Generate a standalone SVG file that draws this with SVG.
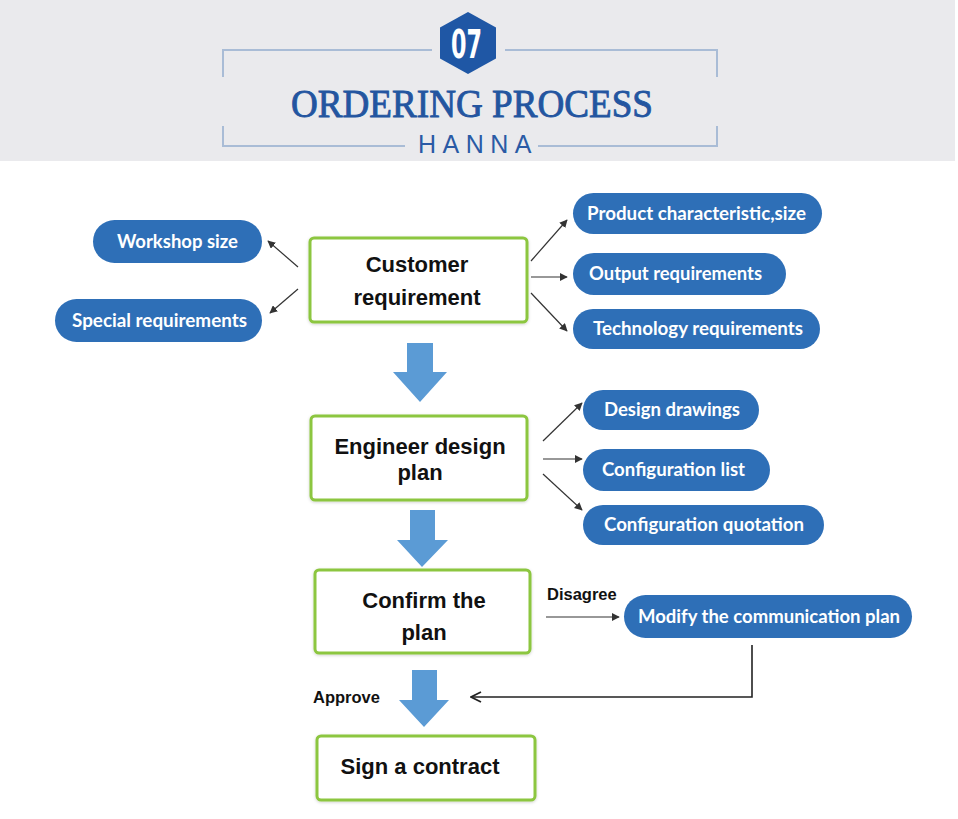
<svg xmlns="http://www.w3.org/2000/svg" width="958" height="819" viewBox="0 0 958 819">
<style>
.frame{stroke:#a9bcd6;stroke-width:2;fill:none}
.box{fill:#fff;stroke:#8cc63f;stroke-width:3;filter:url(#sh)}
.boxt{font-family:"Liberation Sans",Arial,sans-serif;font-weight:bold;font-size:22px;fill:#111;text-anchor:middle}
.pill{fill:#2e6fb7}
.pillt{font-family:Lato,"Open Sans",sans-serif;font-weight:bold;font-size:18px;fill:#fff}
.thin{stroke:#333;stroke-width:1.2;fill:none;marker-end:url(#ah)}
.blk{fill:#5b9bd5}
.lbl{font-family:"Liberation Sans",Arial,sans-serif;font-weight:bold;font-size:16.5px;fill:#111}
</style>
<defs>
<marker id="ah" viewBox="0 0 10 10" refX="9" refY="5" markerWidth="8" markerHeight="8" markerUnits="userSpaceOnUse" orient="auto">
<path d="M0,0 L10,5 L0,10 z" fill="#333"/>
</marker>
<marker id="chev" viewBox="0 0 12 12" refX="11" refY="6" markerWidth="12" markerHeight="12" markerUnits="userSpaceOnUse" orient="auto">
<path d="M1,1 L11,6 L1,11" fill="none" stroke="#222" stroke-width="1.8"/>
</marker>
<filter id="sh" x="-5%" y="-10%" width="110%" height="120%">
<feDropShadow dx="0" dy="1" stdDeviation="1.5" flood-color="#000" flood-opacity="0.18"/>
</filter>
</defs>

<g id="header">
<rect x="0" y="0" width="955" height="161" fill="#eaeaed"/>
<path class="frame" d="M223,77 V50 H432 M505,50 H717 V77"/>
<path class="frame" d="M223,126 V146 H405 M538,146 H717 V126"/>
<polygon points="468,12 496,27.5 496,58.5 468,74 440,58.5 440,27.5" fill="#1f57a5"/>
<text x="466.5" y="58" font-family="'DejaVu Sans Condensed','Liberation Sans Narrow',sans-serif" font-weight="bold" font-size="39" fill="#fff" text-anchor="middle" textLength="31" lengthAdjust="spacingAndGlyphs">07</text>
<text x="291" y="117" font-family="'Liberation Serif','Times New Roman',serif" font-size="40" fill="#2355a0" stroke="#2355a0" stroke-width="0.9" textLength="362" lengthAdjust="spacingAndGlyphs">ORDERING PROCESS</text>
<text x="418" y="153" font-family="'Liberation Sans',Arial,sans-serif" font-size="25" fill="#2a5aa5" letter-spacing="6.5">HANNA</text>
</g>

<g id="connectors">
<line class="thin" x1="298" y1="267" x2="268" y2="241"/>
<line class="thin" x1="298" y1="289" x2="270" y2="313"/>
<line class="thin" x1="531" y1="261" x2="567" y2="220"/>
<line class="thin" x1="531" y1="277" x2="567" y2="277"/>
<line class="thin" x1="531" y1="293" x2="567" y2="331"/>
<line class="thin" x1="543" y1="441" x2="582" y2="403"/>
<line class="thin" x1="543" y1="459" x2="582" y2="459"/>
<line class="thin" x1="543" y1="474" x2="582" y2="510"/>
<line class="thin" x1="546" y1="617" x2="619" y2="617"/>
<polyline points="752,645 752,697 471,697" fill="none" stroke="#222" stroke-width="1.6" marker-end="url(#chev)"/>
<polygon class="blk" points="407,343 433,343 433,372 447,372 420,402 393,372 407,372"/>
<polygon class="blk" points="410,510 435,510 435,540 448,540 422,567 397,540 410,540"/>
<polygon class="blk" points="412,670 437,670 437,700 449,700 424,727 399,700 412,700"/>
<text class="lbl" x="547" y="600">Disagree</text>
<text class="lbl" x="313" y="703">Approve</text>
</g>

<g id="customer-requirement">
<rect class="box" x="310" y="238" width="217" height="84" rx="4"/>
<text class="boxt" x="417" y="272">Customer</text>
<text class="boxt" x="417" y="305">requirement</text>
</g>
<g id="engineer-design-plan">
<rect class="box" x="311" y="416" width="216" height="84" rx="4"/>
<text class="boxt" x="420" y="454">Engineer design</text>
<text class="boxt" x="420" y="480">plan</text>
</g>
<g id="confirm-the-plan">
<rect class="box" x="315" y="570" width="215" height="83" rx="4"/>
<text class="boxt" x="424" y="608">Confirm the</text>
<text class="boxt" x="424" y="640">plan</text>
</g>
<g id="sign-a-contract">
<rect class="box" x="317" y="736" width="218" height="64" rx="4"/>
<text class="boxt" x="420" y="774">Sign a contract</text>
</g>

<g id="workshop-size">
<rect class="pill" x="93" y="220" width="169" height="43" rx="21.5"/>
<text class="pillt" x="117" y="248" textLength="121" lengthAdjust="spacingAndGlyphs">Workshop size</text>
</g>
<g id="special-requirements">
<rect class="pill" x="55" y="299" width="207" height="43" rx="21.5"/>
<text class="pillt" x="72" y="327" textLength="175" lengthAdjust="spacingAndGlyphs">Special requirements</text>
</g>
<g id="product-characteristic">
<rect class="pill" x="573" y="193" width="249" height="41" rx="20.5"/>
<text class="pillt" x="587" y="220" textLength="219" lengthAdjust="spacingAndGlyphs">Product characteristic,size</text>
</g>
<g id="output-requirements">
<rect class="pill" x="573" y="253" width="213" height="42" rx="21"/>
<text class="pillt" x="589" y="280" textLength="173" lengthAdjust="spacingAndGlyphs">Output requirements</text>
</g>
<g id="technology-requirements">
<rect class="pill" x="573" y="309" width="247" height="40" rx="20"/>
<text class="pillt" x="593" y="335" textLength="210" lengthAdjust="spacingAndGlyphs">Technology requirements</text>
</g>
<g id="design-drawings">
<rect class="pill" x="583" y="390" width="176" height="40" rx="20"/>
<text class="pillt" x="604" y="416" textLength="136" lengthAdjust="spacingAndGlyphs">Design drawings</text>
</g>
<g id="configuration-list">
<rect class="pill" x="583" y="449" width="187" height="42" rx="21"/>
<text class="pillt" x="602" y="476" textLength="143" lengthAdjust="spacingAndGlyphs">Configuration list</text>
</g>
<g id="configuration-quotation">
<rect class="pill" x="583" y="505" width="241" height="40" rx="20"/>
<text class="pillt" x="604" y="531" textLength="200" lengthAdjust="spacingAndGlyphs">Configuration quotation</text>
</g>
<g id="modify-plan">
<rect class="pill" x="624" y="595" width="288" height="43" rx="21.5"/>
<text class="pillt" x="638" y="623" textLength="262" lengthAdjust="spacingAndGlyphs">Modify the communication plan</text>
</g>
</svg>
